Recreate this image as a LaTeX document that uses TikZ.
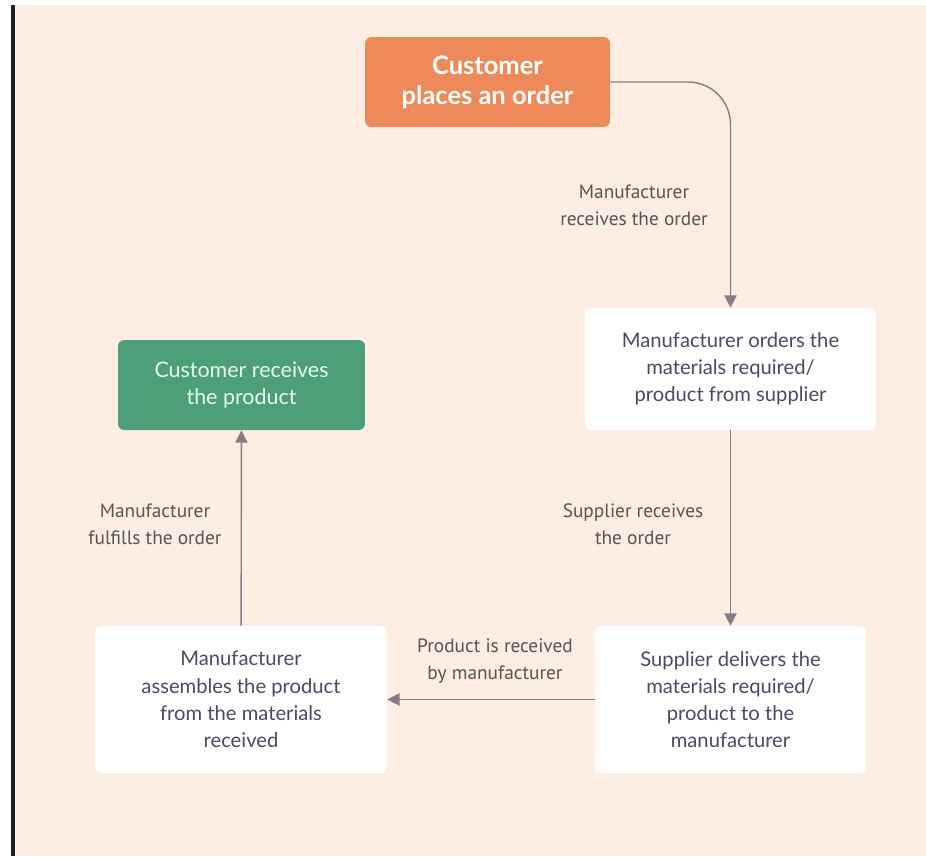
\documentclass[tikz,border=0pt]{standalone}
\usepackage{fontspec}
\setmainfont{Lato}
\newfontfamily\notefont{PT Sans}
\usepackage{xcolor}
\usepackage{tikz}
\usetikzlibrary{positioning,arrows.meta}

\definecolor{paper}{HTML}{FDEDE2}
\definecolor{ordercol}{HTML}{EE8A59}
\definecolor{donecol}{HTML}{4D9F7B}
\definecolor{boxtext}{HTML}{4A4A62}
\definecolor{notetext}{HTML}{555555}
\definecolor{linecol}{HTML}{8A7A86}

\begin{document}
\begin{tikzpicture}[
    x=0.02cm,y=-0.02cm,
    font=\fontsize{11.5}{15.5}\selectfont,>={Triangle[length=7pt,width=7pt]},
    step box/.style={rounded corners=3.5pt,align=center,inner sep=4pt,
      text=boxtext},
    startbox/.style={step box,fill=ordercol,text=white,
      font=\fontsize{14.5}{17}\selectfont\bfseries},
    endbox/.style={step box,fill=donecol,text=white!90!green,
      font=\fontsize{12.2}{15.5}\selectfont},
    plainbox/.style={step box,fill=white},
    note/.style={align=center,text=notetext,
      font=\notefont\fontsize{11}{15.5}\selectfont},
    flow/.style={->,line width=0.8pt,draw=linecol}
]
% page and left rule
\fill[white] (0,0) rectangle (926,856);
\fill[paper] (15,5) rectangle (926,856);
\fill[black!88] (11,5) rectangle (15,856);

\node[startbox,minimum width=4.9cm,minimum height=1.8cm]  (order) at (487.5,82)
  {Customer\\places an order};
\node[plainbox,minimum width=5.82cm,minimum height=2.44cm] (mforder) at (730.5,369)
  {Manufacturer orders the\\materials required/\\product from supplier};
\node[endbox,minimum width=4.94cm,minimum height=1.8cm]   (gets) at (241.5,385)
  {Customer receives\\the product};
\node[plainbox,minimum width=5.42cm,minimum height=2.94cm] (delivers) at (730.5,699.5)
  {Supplier delivers the\\materials required/\\product to the\\manufacturer};
\node[plainbox,minimum width=5.84cm,minimum height=2.94cm] (assembles) at (241,699.5)
  {Manufacturer\\assembles the product\\from the materials\\received};

\draw[flow,rounded corners=0.85cm] (order.east) -| (mforder.north);
\draw[flow] (mforder) -- (delivers);
\draw[flow] (delivers) -- (assembles);
\draw[flow] (assembles) -- (gets);

\node[note] (n1) at (634,205) {Manufacturer\\receives the order};
\node[note] (n2) at (633,524) {Supplier receives\\the order};
\node[note] (n3) at (495,661) {Product is received\\by manufacturer};
\node[note] (n4) at (155,524) {Manufacturer\\fulfills the order};
\end{tikzpicture}
\end{document}
